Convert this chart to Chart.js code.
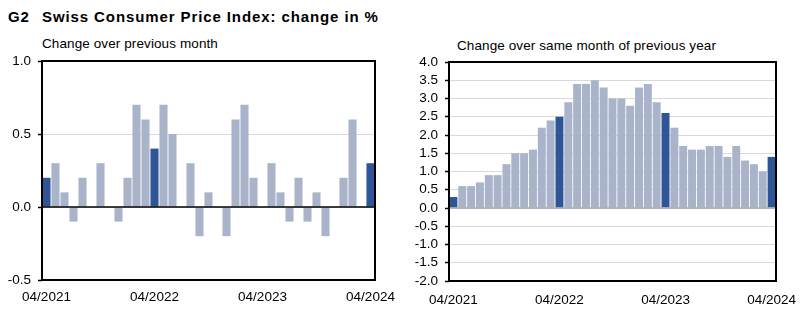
<!DOCTYPE html>
<html>
<head>
<meta charset="utf-8">
<script src="https://cdn.jsdelivr.net/npm/chart.js@4.4.1/dist/chart.umd.min.js"></script>
<style>
  body { margin: 0; background: #fff; font-family: 'Liberation Sans', Arial, sans-serif; }
  #wrap { position: relative; width: 804px; height: 322px; overflow: hidden; }
  .txt { position: absolute; line-height: 1; white-space: nowrap; color: #000; }
  .title { font-size: 15px; font-weight: bold; top: 9px; letter-spacing: 0.9px; }
  .sub { font-size: 13.5px; letter-spacing: 0.1px; }
  canvas { position: absolute; }
</style>
</head>
<body>
<div id="wrap">
  <div class="txt title" style="left:8px">G2</div>
  <div class="txt title" style="left:42px">Swiss Consumer Price Index: change in %</div>
  <div class="txt sub" style="left:42px; top:37px">Change over previous month</div>
  <div class="txt sub" style="left:457px; top:39px">Change over same month of previous year</div>
  <div style="position:absolute; left:0; top:50px; width:400px; height:262px">
    <canvas id="chartMom"></canvas>
  </div>
  <div style="position:absolute; left:400px; top:50px; width:404px; height:262px">
    <canvas id="chartYoy"></canvas>
  </div>
</div>
<script>
// months 04/2021 .. 04/2024
const months = [
  '04/2021', '05/2021', '06/2021', '07/2021', '08/2021', '09/2021', '10/2021', '11/2021', '12/2021',
  '01/2022', '02/2022', '03/2022', '04/2022', '05/2022', '06/2022', '07/2022', '08/2022', '09/2022',
  '10/2022', '11/2022', '12/2022', '01/2023', '02/2023', '03/2023', '04/2023', '05/2023', '06/2023',
  '07/2023', '08/2023', '09/2023', '10/2023', '11/2023', '12/2023', '01/2024', '02/2024', '03/2024',
  '04/2024'
];

// change over previous month, %
const momValues = [
  0.2, 0.3, 0.1, -0.1, 0.2, 0.0, 0.3, 0.0, -0.1,
  0.2, 0.7, 0.6, 0.4, 0.7, 0.5, 0.0, 0.3, -0.2,
  0.1, 0.0, -0.2, 0.6, 0.7, 0.2, 0.0, 0.3, 0.1,
  -0.1, 0.2, -0.1, 0.1, -0.2, 0.0, 0.2, 0.6, 0.0,
  0.3
];

// change over same month of previous year, %
const yoyValues = [
  0.3, 0.6, 0.6, 0.7, 0.9, 0.9, 1.2, 1.5, 1.5,
  1.6, 2.2, 2.4, 2.5, 2.9, 3.4, 3.4, 3.5, 3.3,
  3.0, 3.0, 2.8, 3.3, 3.4, 2.9, 2.6, 2.2, 1.7,
  1.6, 1.6, 1.7, 1.7, 1.4, 1.7, 1.3, 1.2, 1.0,
  1.4
];

const shownTicks = ['04/2021', '04/2022', '04/2023', '04/2024'];

const LIGHT = '#a9b4ca';
const DARK = '#2f5597';
const FONT = "'Liberation Sans', Arial, sans-serif";

function barColors() {
  return months.map(m => m.startsWith('04/') ? DARK : LIGHT);
}

// frame round the plot + zero line on top of the bars
const framePlugin = {
  id: 'frame',
  afterDatasetsDraw(chart, args, opts) {
    const a = chart.chartArea;
    const ctx = chart.ctx;
    const y0 = chart.scales.y.getPixelForValue(0);
    ctx.save();
    ctx.strokeStyle = opts.zeroColor;
    ctx.lineWidth = opts.zeroWidth;
    ctx.beginPath();
    ctx.moveTo(a.left, y0);
    ctx.lineTo(a.right, y0);
    ctx.stroke();
    ctx.strokeStyle = '#000';
    ctx.lineWidth = 2;
    ctx.strokeRect(a.left, a.top, a.right - a.left, a.bottom - a.top);
    ctx.restore();
  }
};

function makeChart(id, values, yMin, yMax, cfg) {
  const ctx = document.getElementById(id).getContext('2d');
  return new Chart(ctx, {
    type: 'bar',
    data: {
      labels: months,
      datasets: [{
        data: values,
        backgroundColor: barColors(),
        borderWidth: 0,
        barPercentage: 0.9,
        categoryPercentage: 1.0
      }]
    },
    options: {
      responsive: true,
      maintainAspectRatio: false,
      animation: false,
      layout: { padding: { left: 0, right: cfg.padRight, top: cfg.padTop, bottom: 0 } },
      plugins: {
        legend: { display: false },
        tooltip: { enabled: false },
        frame: { zeroColor: cfg.zeroColor, zeroWidth: cfg.zeroWidth }
      },
      scales: {
        x: {
          grid: { display: false },
          border: { display: false },
          ticks: {
            autoSkip: false,
            maxRotation: 0,
            padding: cfg.xPad,
            color: '#000',
            font: { family: FONT, size: 13.5 },
            callback: function (v, i) {
              const lab = months[i];
              return shownTicks.includes(lab) ? lab : '';
            }
          },
          afterFit: s => {
            s.height = cfg.xHeight;
            s.paddingLeft = 0;
            s.paddingRight = 0;
          }
        },
        y: {
          min: yMin,
          max: yMax,
          border: { display: false },
          grid: {
            color: cfg.gridColor,
            lineWidth: 1,
            tickLength: 4,
            tickColor: '#000',
            tickWidth: 1.5
          },
          ticks: {
            stepSize: 0.5,
            autoSkip: false,
            padding: 7,
            color: '#000',
            font: { family: FONT, size: 13.5 },
            callback: v => v.toFixed(1)
          },
          afterFit: s => {
            s.width = cfg.yWidth;
            s.paddingTop = 0;
            s.paddingBottom = 0;
          }
        }
      }
    },
    plugins: [framePlugin]
  });
}

makeChart('chartMom', momValues, -0.5, 1.0, {
  padRight: 25, padTop: 11, xHeight: 32, yWidth: 42, xPad: 1,
  gridColor: '#d9d9d9', zeroColor: '#000', zeroWidth: 1.5
});

makeChart('chartYoy', yoyValues, -2.0, 4.0, {
  padRight: 28, padTop: 12, xHeight: 31, yWidth: 49, xPad: 3,
  gridColor: '#d9d9d9', zeroColor: '#a6a6a6', zeroWidth: 1.5
});
</script>
</body>
</html>
